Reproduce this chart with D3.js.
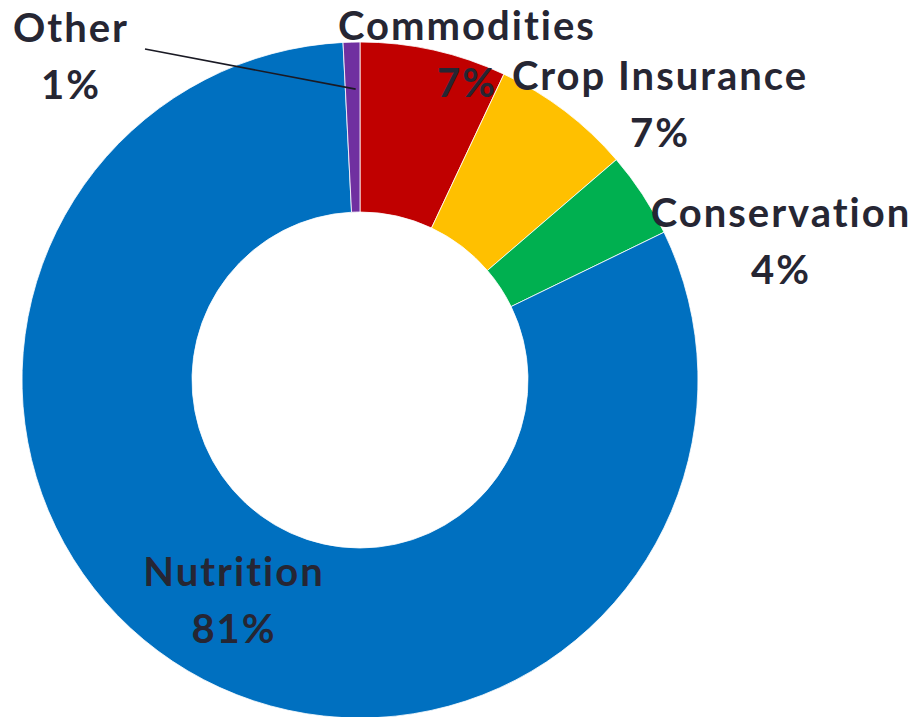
<!DOCTYPE html>
<html>
<head>
<meta charset="utf-8">
<script src="https://cdn.jsdelivr.net/npm/d3@7"></script>
<style>
  html, body { margin: 0; padding: 0; background: #ffffff; }
  svg { display: block; }
  .lbl {
    font-family: Lato, "Open Sans", "DejaVu Sans", sans-serif;
    font-weight: 700;
    fill: #262633;
    font-variant-ligatures: none;
    font-feature-settings: "liga" 0, "clig" 0;
    letter-spacing: 2px;
  }
</style>
</head>
<body>
<div id="chart"></div>
<script>
// Spending shares by program area, in percent
const categories = ["Commodities", "Crop Insurance", "Conservation", "Nutrition", "Other"];
const shares = [7.0, 6.7, 4.1, 81.4, 0.8];
const colors = ["#C00000", "#FFC000", "#00B050", "#0070C0", "#7030A0"];

// Label anchor (centre x, baseline of first line) for each category
const labelAnchors = [
  [467, 40], [660, 90], [781, 227], [234, 586], [71, 42]
];

const W = 914, H = 717;
const cx = 360, cy = 380;
const outerR = 338, innerR = 168;

const svg = d3.select("#chart").append("svg")
  .attr("width", W).attr("height", H);

const data = categories.map((c, i) => ({ name: c, value: shares[i], color: colors[i], anchor: labelAnchors[i] }));

const pie = d3.pie().value(d => d.value).sort(null).startAngle(0).endAngle(2 * Math.PI);
const arcs = pie(data);
const arc = d3.arc().innerRadius(innerR).outerRadius(outerR);

const g = svg.append("g").attr("transform", `translate(${cx},${cy})`);

g.selectAll("path.slice")
  .data(arcs)
  .join("path")
  .attr("class", "slice")
  .attr("d", arc)
  .attr("fill", d => d.data.color)
  .attr("stroke", "#ffffff")
  .attr("stroke-width", 0.8);

// Leader line for the thin "Other" slice
const other = arcs[arcs.length - 1];
const leaderArc = d3.arc().innerRadius(291).outerRadius(291);
const [ex, ey] = leaderArc.centroid(other);
svg.append("line")
  .attr("x1", 145).attr("y1", 49)
  .attr("x2", cx + ex + 3).attr("y2", cy + ey)
  .attr("stroke", "#1a1a24")
  .attr("stroke-width", 1.6);

const pct = v => Math.round(v) + "%";
const fs = 40, lineGap = 57;

const labels = svg.selectAll("text.lbl")
  .data(arcs)
  .join("text")
  .attr("class", "lbl")
  .attr("text-anchor", "middle")
  .attr("font-size", fs);

labels.append("tspan")
  .attr("x", d => d.data.anchor[0])
  .attr("y", d => d.data.anchor[1])
  .text(d => d.data.name);

labels.append("tspan")
  .attr("x", d => d.data.anchor[0])
  .attr("y", d => d.data.anchor[1] + lineGap)
  .text(d => pct(d.data.value));
</script>
</body>
</html>
